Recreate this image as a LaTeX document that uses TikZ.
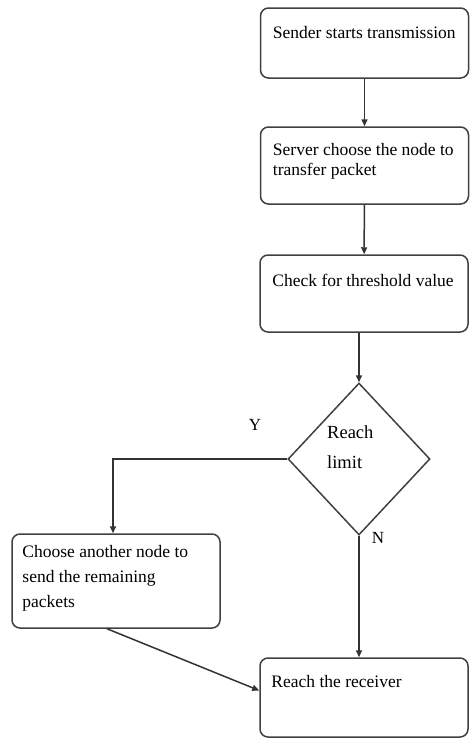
\documentclass[tikz,border=0pt]{standalone}
\usepackage{fontspec}
\setmainfont{Liberation Serif}
\usetikzlibrary{shapes.geometric,arrows.meta}
\begin{document}
\begin{tikzpicture}[x=1pt,y=-1pt,
 box/.style={draw=black!75, line width=1.5pt, rounded corners=8pt, minimum width=208pt, inner sep=0pt},
 lbl/.style={font=\fontsize{17.5}{20}\selectfont, anchor=north west, align=left, inner sep=0pt},
 arr/.style={draw=black!80, line width=1.5pt, -{Triangle[length=7pt,width=6pt]}},
 dia/.style={draw=black!75, line width=1.5pt, diamond, minimum width=142pt, minimum height=152pt, inner sep=0pt}]
\useasboundingbox (0,0) rectangle (470,740);
\node[box, minimum height=70pt] (b1) at (364.5,43) {};
\node[box, minimum height=77pt] (b2) at (364.5,165.5) {};
\node[box, minimum height=77pt] (b3) at (364,293.5) {};
\node[dia] (d) at (359,459) {};
\node[box, minimum height=94pt] (b4) at (116,581) {};
\node[box, minimum height=79pt] (b5) at (364,697.5) {};
\node[lbl] (t1) at ([shift={(13,19)}]b1.north west) {Sender starts transmission};
\node[lbl] (t2) at ([shift={(13,17)}]b2.north west) {Server choose the node to\\transfer packet};
\node[lbl] (t3) at ([shift={(13,20)}]b3.north west) {Check for threshold value};
\node[lbl, font=\fontsize{17.5}{25}\selectfont] (t4) at ([shift={(11,12)}]b4.north west) {Choose another node to\\send the remaining\\packets};
\node[lbl] (t5) at ([shift={(12,18)}]b5.north west) {Reach the receiver};
\node[lbl, font=\fontsize{18.5}{30}\selectfont] (td) at (327,425) {Reach\\limit};
\node[font=\fontsize{17}{19}\selectfont, inner sep=0pt] (ly) at (255,425) {Y};
\node[font=\fontsize{17}{19}\selectfont, inner sep=0pt] (ln) at (378,538) {N};
\draw[arr] (b1) -- (b2);
\draw[arr] (b2) -- (b3);
\draw[arr] (d.north |- b3.south) -- (d.north);
\draw[arr] (d.west) -| ([shift={(-3,0)}]b4.north);
\draw[arr] (d.south) -- (d.south |- b5.north);
\draw[arr] ([shift={(-9,0)}]b4.south) -- ([shift={(0,-7)}]b5.west);
\end{tikzpicture}
\end{document}
